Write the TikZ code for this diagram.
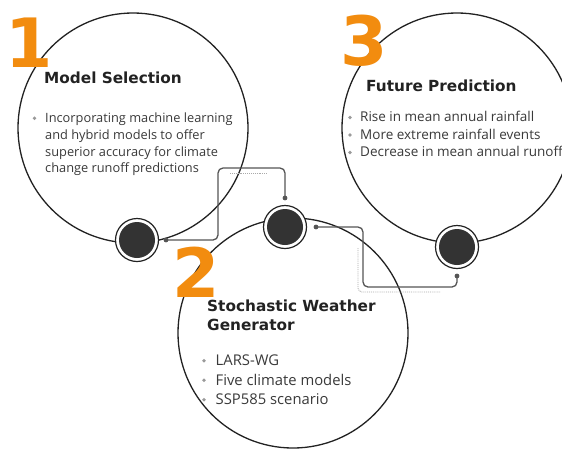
\documentclass[tikz,border=0pt]{standalone}
\usepackage{fontspec}
\setmainfont{Open Sans}
\newfontfamily\headfont{DejaVu Sans}
\definecolor{numorange}{HTML}{F28C0F}
\definecolor{linedark}{HTML}{222222}
\definecolor{hubfill}{HTML}{333333}
\definecolor{conncol}{HTML}{555555}
\definecolor{dotcol}{HTML}{AAAAAA}
\definecolor{textcol}{HTML}{3A3A3A}
\definecolor{titlecol}{HTML}{222222}
\definecolor{bulletcol}{HTML}{9A9A9A}
\tikzset{
  bigcircle/.style={circle, draw=linedark, line width=1.3pt, minimum size=230pt, inner sep=0pt},
  hub/.style={circle, draw=linedark, fill=white, line width=1.2pt, minimum size=43pt, inner sep=0pt,
    path picture={\fill[hubfill] (path picture bounding box.center) circle (18pt);}},
  num/.style={text=numorange, font=\headfont\bfseries\fontsize{68}{68}\selectfont, anchor=base west, inner sep=0pt},
  title/.style={font=\headfont\bfseries\fontsize{15.3}{19}\selectfont, text=titlecol, anchor=base west, inner sep=0pt},
  itemA/.style={font=\fontsize{12.8}{16}\selectfont, text=textcol, anchor=base west, inner sep=0pt},
  itemB/.style={font=\fontsize{14.8}{18}\selectfont, text=textcol, anchor=base west, inner sep=0pt},
  itemC/.style={font=\fontsize{13.5}{17}\selectfont, text=textcol, anchor=base west, inner sep=0pt},
  bul/.style={circle, fill=bulletcol, inner sep=0pt, minimum size=3.6pt},
  conn/.style={draw=conncol, line width=1.3pt, rounded corners=5pt},
  shade/.style={draw=dotcol, line width=0.9pt, densely dotted, rounded corners=4pt},
  enddot/.style={fill=conncol}
}
\begin{document}
\begin{tikzpicture}[x=1pt,y=-1pt]
\clip (0,0) rectangle (562,453);
\fill[white] (0,0) rectangle (562,453);

% big circles
\node[bigcircle] (c1) at (133,128) {};
\node[bigcircle] (c2) at (293,333) {};
\node[bigcircle] (c3) at (457,128) {};

% connectors
\coordinate (a1) at (166,240);
\coordinate (a2) at (218,168);
\coordinate (a3) at (285,198);
\coordinate (b1) at (316,227);
\coordinate (b2) at (363,287);
\coordinate (b3) at (457,276);
\coordinate (sa1) at (230,173);
\coordinate (sa2) at (267,173);
\coordinate (sb1) at (358,248);
\coordinate (sb2) at (440,292);

\draw[shade] (sa1) -- (sa2);
\draw[shade] (sb1) |- (sb2);
\draw[conn] (a1) -| (a2) -| (a3);
\draw[conn] (b1) -| (b2) -| (b3);
\fill[enddot] (a1) circle (2.4pt);
\fill[enddot] (a3) circle (2.4pt);
\fill[enddot] (b1) circle (2.4pt);
\fill[enddot] (b3) circle (2.4pt);

% hubs
\node[hub] (h1) at (137,240) {};
\node[hub] (h2) at (285,227) {};
\node[hub] (h3) at (457,247) {};

% numbers
\node[num] (n1) at (5.5,67) {1};
\node[num] (n3) at (340.5,65) {3};
\node[num] (n2) at (172.5,297) {2};

% circle 1 text
\node[title] (t1) at (44,83) {Model Selection};
\node[bul] (p1) at (34.5,118.2) {};
\node[itemA] (l1a) at (45,122.5) {Incorporating machine learning};
\node[itemA] (l1b) at (45,139.3) {and hybrid models to offer};
\node[itemA] (l1c) at (45,156.1) {superior accuracy for climate};
\node[itemA] (l1d) at (45,172.9) {change runoff predictions};

% circle 3 text
\node[title] (t3) at (366,91) {Future Prediction};
\node[bul] (p3a) at (350,117.5) {};
\node[bul] (p3b) at (350,135) {};
\node[bul] (p3c) at (350,152.5) {};
\node[itemC] (l3a) at (360,121.5) {Rise in mean annual rainfall};
\node[itemC] (l3b) at (360,139) {More extreme rainfall events};
\node[itemC] (l3c) at (360,156.5) {Decrease in mean annual runoff};

% circle 2 text
\node[title] (t2a) at (207,311.7) {Stochastic Weather};
\node[title] (t2b) at (207,330.7) {Generator};
\node[bul] (p2a) at (204,360.7) {};
\node[bul] (p2b) at (204,380.2) {};
\node[bul] (p2c) at (204,399.7) {};
\node[itemB] (l2a) at (215.5,365.7) {LARS-WG};
\node[itemB] (l2b) at (215.5,385.2) {Five climate models};
\node[itemB] (l2c) at (215.5,404.7) {SSP585 scenario};
\end{tikzpicture}
\end{document}
